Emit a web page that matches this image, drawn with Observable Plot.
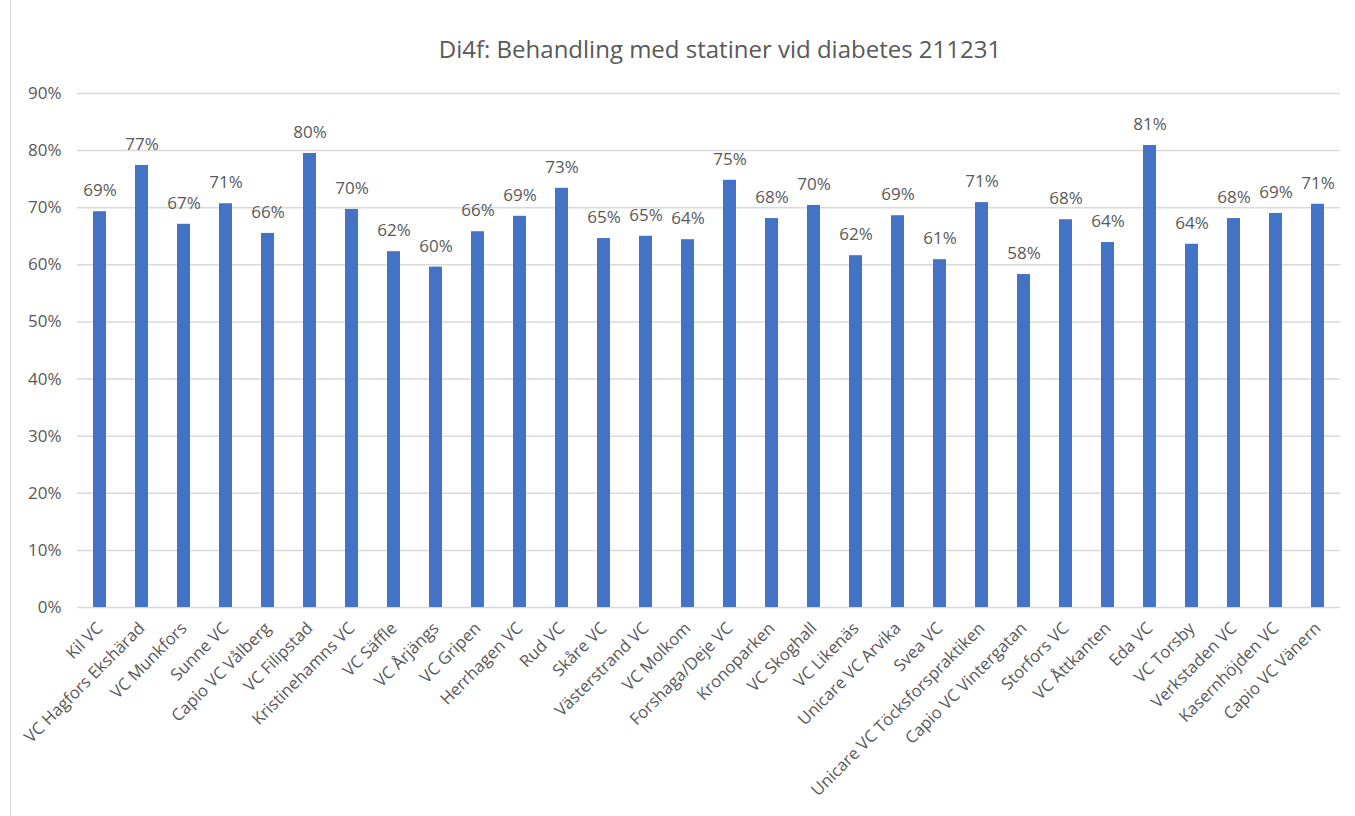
<!DOCTYPE html>
<html>
<head>
<meta charset="utf-8">
<script src="https://cdn.jsdelivr.net/npm/d3@7"></script>
<script src="https://cdn.jsdelivr.net/npm/@observablehq/plot@0.6"></script>
<style>
  html, body { margin: 0; padding: 0; background: #fff; }
  #wrap { position: relative; width: 1355px; height: 816px; overflow: hidden; font-family: "Open Sans", sans-serif; }
  #frame { position: absolute; left: 10px; top: -1px; width: 1400px; height: 830px; border: 1px solid #d9d9d9; box-sizing: border-box; }
  #title { position: absolute; left: 0; width: 1440px; top: 32px; text-align: center; font-size: 24px; color: #595959; }
  #chart { position: absolute; left: 0; top: 0; }
</style>
</head>
<body>
<div id="wrap">
  <div id="frame"></div>
  <div id="title">Di4f: Behandling med statiner vid diabetes 211231</div>
  <div id="chart"></div>
</div>
<script>
const categories = [
  "Kil VC", "VC Hagfors Ekshärad", "VC Munkfors", "Sunne VC", "Capio VC Vålberg",
  "VC Filipstad", "Kristinehamns VC", "VC Säffle", "VC Årjängs", "VC Gripen",
  "Herrhagen VC", "Rud VC", "Skåre VC", "Västerstrand VC", "VC Molkom",
  "Forshaga/Deje VC", "Kronoparken", "VC Skoghall", "VC Likenäs", "Unicare VC Arvika",
  "Svea VC", "Unicare VC Töcksforspraktiken", "Capio VC Vintergatan", "Storfors VC", "VC Åttkanten",
  "Eda VC", "VC Torsby", "Verkstaden VC", "Kasernhöjden VC", "Capio VC Vänern"
];
const values = [
  0.693, 0.774, 0.671, 0.707, 0.655,
  0.795, 0.697, 0.623, 0.596, 0.658,
  0.685, 0.734, 0.646, 0.650, 0.644,
  0.748, 0.681, 0.704, 0.616, 0.686,
  0.609, 0.709, 0.583, 0.679, 0.639,
  0.809, 0.636, 0.681, 0.690, 0.706
];
const yTicks = [0, 0.1, 0.2, 0.3, 0.4, 0.5, 0.6, 0.7, 0.8, 0.9];

const data = categories.map((c, i) => ({name: c, value: values[i]}));
const pct = d3.format(".0%");

const plot = Plot.plot({
  width: 1355,
  height: 816,
  marginTop: 93,
  marginBottom: 209,
  marginLeft: 77,
  marginRight: 15,
  style: {fontFamily: "Open Sans, sans-serif", fontSize: "16px", color: "#595959", background: "transparent"},
  x: {domain: categories, paddingInner: 0.68, paddingOuter: 0.34, label: null},
  y: {domain: [0, 0.9], label: null},
  marks: [
    Plot.gridY(yTicks, {stroke: "#d9d9d9", strokeOpacity: 1, strokeWidth: 1.5}),
    Plot.axisY(yTicks, {tickFormat: pct, tickSize: 0, tickPadding: 16, fill: "#595959", fontSize: 17, label: null}),
    Plot.axisX({tickRotate: -45, tickSize: 0, tickPadding: 9, dy: 9, fill: "#595959", fontSize: 16.7, label: null}),
    Plot.barY(data, {x: "name", y: "value", fill: "#4472c4"}),
    Plot.text(data, {x: "name", y: "value", text: d => pct(d.value), dy: -21, fill: "#595959", fontSize: 17})
  ]
});
document.getElementById("chart").appendChild(plot);
</script>
</body>
</html>
